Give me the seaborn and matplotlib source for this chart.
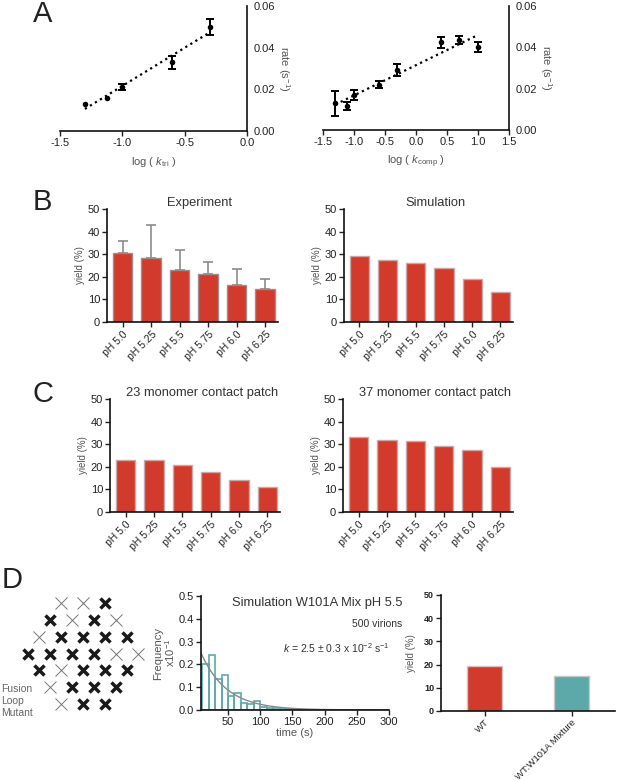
import numpy as np
import pandas as pd
import matplotlib
matplotlib.use('Agg')
import matplotlib.pyplot as plt
import seaborn as sns

sns.set_theme(style='ticks')
plt.rcParams['font.family'] = ['Liberation Sans', 'DejaVu Sans']
plt.rcParams['axes.unicode_minus'] = False
plt.rcParams['mathtext.fontset'] = 'custom'
plt.rcParams['mathtext.rm'] = 'Liberation Sans'
plt.rcParams['mathtext.it'] = 'Liberation Sans:italic'

# ---- panel A: rate vs log k ----
tri_logk = [-1.3, -1.12, -1.0, -0.6, -0.3]
tri_rate = [0.013, 0.016, 0.021, 0.033, 0.050]
tri_err = [0.0, 0.0, 0.0015, 0.003, 0.0038]

comp_logk = [-1.3, -1.12, -1.0, -0.6, -0.3, 0.4, 0.7, 1.0]
comp_rate = [0.013, 0.0115, 0.017, 0.022, 0.029, 0.0425, 0.0435, 0.040]
comp_err = [0.006, 0.002, 0.0025, 0.0018, 0.003, 0.0027, 0.002, 0.0025]

# ---- panels B, C: yields per pH ----
ph_labels = ['pH 5.0', 'pH 5.25', 'pH 5.5', 'pH 5.75', 'pH 6.0', 'pH 6.25']
exp_yield = [30.5, 28.5, 23.2, 21.3, 16.5, 14.7]
exp_err = [5.3, 14.3, 8.8, 5.2, 7.0, 4.5]
sim_yield = [29.3, 27.5, 26.2, 24.0, 19.0, 13.3]
patch23_yield = [22.8, 23.0, 21.0, 17.8, 14.0, 11.0]
patch37_yield = [33.0, 32.0, 31.5, 29.0, 27.3, 20.0]

# ---- panel D ----
# X = fusion loop mutant (thick), . = wild type (thin); hex lattice rows
lattice_rows = ['..X', 'X.X.', '.XXXX', 'XXXX..', 'X.XXX', '.XXX', '.XX']
lattice_start = [3, 2, 1, 0, 1, 2, 3]

hist_edges = [10, 20, 30, 40, 50, 60, 70, 80, 90, 100, 110, 120, 130, 140, 150,
              160, 170, 180, 190, 200, 210, 220, 230, 240, 250, 260, 270, 280, 290, 300]
hist_freq = [0.20, 0.24, 0.135, 0.152, 0.06, 0.075, 0.03, 0.026, 0.038, 0.013,
             0.01, 0.008, 0.005, 0.004, 0.003, 0.002, 0.001, 0, 0, 0,
             0, 0, 0, 0, 0, 0, 0, 0, 0]
fit_k = 0.025
fit_amp = 0.305

mix_labels = ['WT', 'WT:W101A Mixture']
mix_yield = [19.5, 15.0]

RED = '#D23A2B'
TEAL = '#5BAAA9'
TXT = '#222222'
LAB = '#555555'

W, H = 617, 781
fig = plt.figure(figsize=(W / 100, H / 100), dpi=100)


def px_axes(x0, y0, x1, y1):
    return fig.add_axes([x0 / W, 1 - y1 / H, (x1 - x0) / W, (y1 - y0) / H])


def base_ticks(ax, size=8):
    ax.tick_params(length=3.5, width=1.0, labelsize=size, colors=TXT, pad=1.5)
    for s in ax.spines.values():
        s.set_linewidth(1.2)
        s.set_color('#111111')


# ---------- A ----------
def rate_panel(ax, xs, ys, errs, xlim, xticks, xlabel):
    xs = np.array(xs); ys = np.array(ys); errs = np.array(errs)
    sns.regplot(x=xs, y=ys, ax=ax, scatter=False, ci=None, truncate=True,
                line_kws=dict(color='black', ls=':', lw=1.6))
    m = errs > 0
    ax.errorbar(xs[m], ys[m], yerr=errs[m], fmt='none', ecolor='black',
                elinewidth=1.4, capsize=3, capthick=1.4)
    sns.scatterplot(x=xs, y=ys, ax=ax, color='black', s=16, edgecolor='black',
                    linewidth=0, zorder=3)
    ax.set_xlim(*xlim)
    ax.set_xticks(xticks)
    ax.set_xticklabels([f'{t:.1f}' for t in xticks])
    ax.set_ylim(0, 0.06)
    ax.set_yticks([0, 0.02, 0.04, 0.06])
    ax.set_yticklabels(['0.00', '0.02', '0.04', '0.06'])
    ax.yaxis.tick_right()
    ax.yaxis.set_label_position('right')
    sns.despine(ax=ax, left=True, right=False)
    base_ticks(ax)
    ax.tick_params(axis='y', pad=1)
    ax.set_ylabel(r'rate (s$^{-1}$)', rotation=270, va='bottom', fontsize=8,
                  color=LAB, labelpad=1)
    ax.set_xlabel(xlabel, fontsize=8, color=LAB, labelpad=5)


axA1 = px_axes(60, 6, 247, 131)
rate_panel(axA1, tri_logk, tri_rate, tri_err, (-1.5, 0.0),
           [-1.5, -1.0, -0.5, 0.0], r'log ( $k_{\mathrm{tri}}$ )')
axA2 = px_axes(323, 6, 509, 130)
rate_panel(axA2, comp_logk, comp_rate, comp_err, (-1.5, 1.5),
           [-1.5, -1.0, -0.5, 0.0, 0.5, 1.0, 1.5], r'log ( $k_{\mathrm{comp}}$ )')


# ---------- B, C ----------
def yield_panel(ax, vals, title, errs=None, edge='#c4aaaa'):
    sns.barplot(x=ph_labels, y=vals, ax=ax, color=RED, saturation=1, width=0.68,
                edgecolor=edge, linewidth=1.0)
    if errs is not None:
        ax.errorbar(np.arange(len(vals)), vals, yerr=[np.zeros(len(vals)), errs],
                    fmt='none', ecolor='#8c8c8c', elinewidth=1.2, capsize=3.5,
                    capthick=1.2, zorder=3)
    ax.set_xlim(-0.55, 5.45)
    ax.set_ylim(0, 50)
    ax.set_yticks([0, 10, 20, 30, 40, 50])
    sns.despine(ax=ax)
    base_ticks(ax)
    for lab in ax.get_xticklabels():
        lab.set_rotation(45)
        lab.set_ha('right')
        lab.set_rotation_mode('anchor')
        lab.set_fontsize(7.5)
    ax.set_title(title, fontsize=9.3, color='#333333', pad=0.5, x=0.54)
    ax.set_ylabel('yield (%)', fontsize=7, color=LAB, labelpad=2)


axB1 = px_axes(107, 209, 278, 322)
yield_panel(axB1, exp_yield, 'Experiment', errs=exp_err, edge='#9a9090')
axB2 = px_axes(344, 209, 513, 322)
yield_panel(axB2, sim_yield, 'Simulation')
axC1 = px_axes(110, 399, 280, 512)
yield_panel(axC1, patch23_yield, '23 monomer contact patch')
axC2 = px_axes(343, 399, 513, 512)
yield_panel(axC2, patch37_yield, '37 monomer contact patch')

# ---------- D: lattice schematic ----------
axL = px_axes(17, 593, 149, 714)
thick_x, thick_y, thin_x, thin_y = [], [], [], []
for r, (row, start) in enumerate(zip(lattice_rows, lattice_start)):
    for j, ch in enumerate(row):
        if ch == 'X':
            thick_x.append(start + 2 * j); thick_y.append(r)
        else:
            thin_x.append(start + 2 * j); thin_y.append(r)
axL.plot(thin_x, thin_y, 'x', ms=8, mew=0.7, color='#777777')
axL.plot(thick_x, thick_y, 'x', ms=7.5, mew=2.5, color='#1a1a1a')
axL.set_xlim(-1, 11)
axL.set_ylim(6.6, -0.6)
axL.axis('off')
fig.text(1 / W, 1 - 701 / H, 'Fusion\nLoop\nMutant', fontsize=7.5, color='#666666',
         va='center', ha='left', linespacing=1.25)

# ---------- D: histogram ----------
axH = px_axes(201, 596, 389, 710)
sns.histplot(x=hist_edges[:-1], weights=hist_freq, bins=hist_edges, ax=axH,
             fill=False, element='bars', color=TEAL, linewidth=1.2)
t = np.linspace(8, 300, 300)
axH.plot(t, fit_amp * np.exp(-fit_k * t), color='#8a8a8a', lw=1.0)
axH.set_xlim(8, 300)
axH.set_ylim(0, 0.5)
axH.set_xticks([50, 100, 150, 200, 250, 300])
axH.set_yticks([0, 0.1, 0.2, 0.3, 0.4, 0.5])
axH.set_yticklabels(['0.0', '0.1', '0.2', '0.3', '0.4', '0.5'])
sns.despine(ax=axH)
base_ticks(axH, size=8)
axH.set_xlabel('time (s)', fontsize=8, color=LAB, labelpad=0.5)
axH.set_ylabel('Frequency\nx10$^{-1}$', fontsize=8, color=LAB, labelpad=1,
               linespacing=1.0)
axH.text(0.617, 0.94, 'Simulation W101A Mix pH 5.5', transform=axH.transAxes,
         ha='center', va='center', fontsize=9.3, color='#333333')
axH.text(1.07, 0.755, '500 virions', transform=axH.transAxes, ha='right',
         va='center', fontsize=7.5, color='#333333')
axH.text(0.72, 0.545, r'$k$ = 2.5 ± 0.3 x 10$^{-2}$ s$^{-1}$',
         transform=axH.transAxes, ha='center', va='center', fontsize=7.5,
         color='#333333')

# ---------- D: WT vs mixture ----------
axM = px_axes(441, 595, 615, 711)
sns.barplot(x=mix_labels, y=mix_yield, hue=mix_labels, palette=[RED, TEAL],
            saturation=1, width=0.4, edgecolor='#cfc4c4', linewidth=1.0,
            legend=False, ax=axM)
axM.set_xlim(-0.5, 1.5)
axM.set_ylim(0, 50)
axM.set_yticks([0, 10, 20, 30, 40, 50])
sns.despine(ax=axM)
base_ticks(axM, size=6.5)
for lab in axM.get_yticklabels():
    lab.set_fontweight('bold')
for lab in axM.get_xticklabels():
    lab.set_rotation(45)
    lab.set_ha('right')
    lab.set_rotation_mode('anchor')
    lab.set_fontsize(6.8)
axM.set_ylabel('yield (%)', fontsize=7, color=LAB, labelpad=6)

# ---------- panel letters ----------
for letter, x, y in [('A', 33, 13.5), ('B', 33, 202), ('C', 33, 394), ('D', 2, 580)]:
    fig.text(x / W, 1 - y / H, letter, fontsize=21, color=TXT, ha='left', va='center')

fig.savefig('out.png', dpi=100)
